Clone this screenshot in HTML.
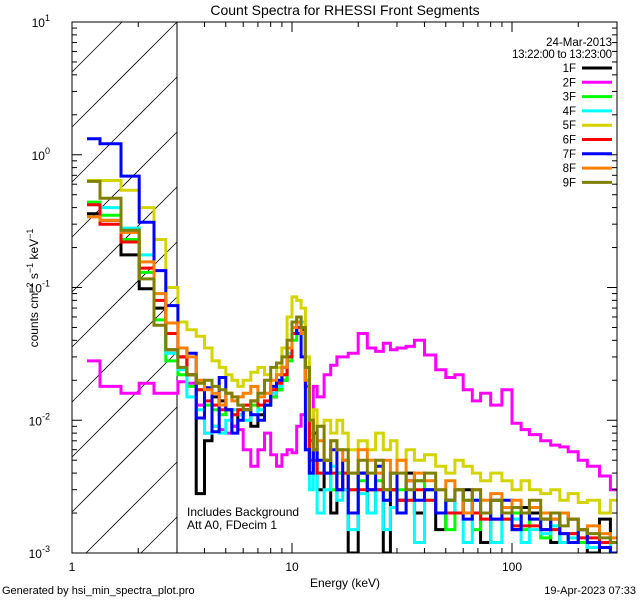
<!DOCTYPE html>
<html><head><meta charset="utf-8"><style>
html,body{margin:0;padding:0;background:#fff;overflow:hidden;width:640px;height:600px;}
svg{display:block;}
svg text{font-family:"Liberation Sans",sans-serif;fill:#000;}
</style></head><body>
<svg id="chart" width="640" height="600" viewBox="0 0 640 600" xmlns="http://www.w3.org/2000/svg">
<rect width="640" height="600" fill="#fff"/>
<defs><clipPath id="pc"><rect x="72" y="22" width="545" height="531"/></clipPath></defs>
<g id="hatch"></g>
<line x1="177" y1="22" x2="177" y2="553" stroke="#000" stroke-width="1"/>
<g id="series" clip-path="url(#pc)"></g>
<rect x="72" y="22" width="545" height="531" fill="none" stroke="#000" stroke-width="1"/>
<g id="ticks"></g>
<text x="345" y="15" font-size="14" text-anchor="middle">Count Spectra for RHESSI Front Segments</text>
<text x="612" y="46" font-size="11.5" text-anchor="end">24-Mar-2013</text>
<text x="612" y="58" font-size="11.5" text-anchor="end" textLength="100">13:22:00 to 13:23:00</text>
<g id="legend"></g>
<text x="187" y="516" font-size="12">Includes Background</text>
<text x="187" y="529" font-size="12">Att A0, FDecim 1</text>
<text x="345" y="587" font-size="12" text-anchor="middle">Energy (keV)</text>
<text transform="translate(38,288) rotate(-90)" font-size="12" text-anchor="middle">counts cm<tspan dy="-5" font-size="9">−2</tspan><tspan dy="5"> s</tspan><tspan dy="-5" font-size="9">−1</tspan><tspan dy="5"> keV</tspan><tspan dy="-5" font-size="9">−1</tspan></text>
<text x="2" y="594" font-size="11">Generated by hsi_min_spectra_plot.pro</text>
<text x="636" y="594" font-size="11" text-anchor="end">19-Apr-2023 07:33</text>
</svg>
<script>
const edges=[1.17,1.34,1.67,2.02,2.36,2.67,3.03,3.33,3.67,4.0,4.33,4.67,5.0,5.33,5.67,6.0,6.5,7.0,7.5,8.0,8.5,9.0,9.5,10.0,10.5,11.0,11.5,12.0,12.5,13,14,15,16,17,18,20,22,24,26,28,30,33,36,40,45,50,55,60,66,72,80,90,100,110,120,135,150,165,180,200,220,250,280,300];
const segNames=["1F","2F","3F","4F","5F","6F","7F","8F","9F"];
const segColors=["#000000","#ff00ff","#00ff00","#00ffff","#d4d400","#ff0000","#0000ff","#ff8000","#808000"];
const s1F=[0.36,0.32,0.176,0.098,0.07,0.034,0.030,0.022,0.0028,0.007,0.015,0.014,0.012,0.009,0.011,0.012,0.009,0.011,0.013,0.015,0.017,0.020,0.030,0.045,0.050,0.048,0.020,0.004,0.006,0.003,0.005,0.002,0.004,0.003,0.001,0.004,0.002,0.003,0.001,0.003,0.0025,0.004,0.002,0.003,0.0015,0.0025,0.002,0.003,0.002,0.0012,0.0025,0.002,0.0015,0.0022,0.002,0.0018,0.0012,0.002,0.0018,0.0015,0.001,0.0018,0.0012];
const s2F=[0.028,0.018,0.016,0.019,0.016,0.016,0.0195,0.019,0.013,0.008,0.009,0.0085,0.008,0.009,0.0085,0.006,0.0045,0.006,0.008,0.0055,0.0045,0.0055,0.006,0.0057,0.009,0.011,0.006,0.007,0.018,0.015,0.022,0.026,0.030,0.030,0.032,0.045,0.035,0.033,0.038,0.034,0.035,0.036,0.040,0.031,0.024,0.021,0.022,0.017,0.014,0.016,0.013,0.017,0.0095,0.0085,0.0078,0.007,0.0065,0.0063,0.0058,0.005,0.0045,0.0038,0.003];
const s3F=[0.44,0.35,0.23,0.13,0.057,0.028,0.022,0.018,0.017,0.013,0.012,0.011,0.012,0.011,0.012,0.012,0.013,0.012,0.013,0.015,0.017,0.020,0.028,0.040,0.055,0.050,0.025,0.005,0.004,0.004,0.005,0.003,0.004,0.004,0.003,0.0035,0.003,0.0035,0.0025,0.003,0.003,0.0025,0.0035,0.0025,0.002,0.0015,0.002,0.0025,0.0015,0.002,0.0012,0.0018,0.002,0.0015,0.0018,0.0013,0.0015,0.0012,0.0014,0.0012,0.0012,0.0011,0.001];
const s4F=[0.42,0.40,0.28,0.176,0.09,0.032,0.024,0.015,0.012,0.008,0.009,0.008,0.010,0.012,0.011,0.010,0.011,0.012,0.013,0.016,0.018,0.022,0.032,0.050,0.060,0.055,0.020,0.003,0.004,0.002,0.003,0.0045,0.0025,0.003,0.0015,0.0028,0.002,0.003,0.0015,0.0022,0.002,0.003,0.0012,0.003,0.002,0.0025,0.002,0.0012,0.0025,0.0018,0.0012,0.002,0.0018,0.0012,0.0015,0.0014,0.0016,0.0012,0.0013,0.0015,0.0011,0.0012,0.001];
const s5F=[0.64,0.64,0.54,0.40,0.23,0.10,0.055,0.048,0.043,0.035,0.028,0.025,0.022,0.020,0.018,0.020,0.023,0.025,0.022,0.018,0.025,0.035,0.060,0.085,0.080,0.070,0.030,0.008,0.012,0.009,0.010,0.008,0.010,0.008,0.006,0.007,0.006,0.008,0.006,0.007,0.005,0.006,0.005,0.0055,0.0045,0.004,0.005,0.0045,0.004,0.0035,0.004,0.0035,0.003,0.0035,0.0030,0.0028,0.003,0.0025,0.0028,0.0024,0.0025,0.002,0.0025];
const s6F=[0.42,0.30,0.22,0.14,0.08,0.045,0.03,0.022,0.017,0.014,0.013,0.012,0.012,0.011,0.012,0.013,0.014,0.013,0.014,0.017,0.019,0.022,0.03,0.045,0.05,0.045,0.018,0.005,0.005,0.004,0.004,0.004,0.003,0.004,0.003,0.003,0.003,0.003,0.003,0.003,0.0025,0.0025,0.003,0.0025,0.002,0.002,0.002,0.002,0.002,0.0018,0.0018,0.0018,0.0016,0.0016,0.0016,0.0015,0.0015,0.0014,0.0014,0.0013,0.0013,0.0012,0.0012];
const s7F=[1.32,1.21,0.69,0.31,0.134,0.073,0.035,0.032,0.0104,0.0176,0.0082,0.021,0.012,0.008,0.010,0.012,0.011,0.010,0.013,0.018,0.020,0.025,0.035,0.055,0.045,0.030,0.006,0.004,0.008,0.005,0.004,0.006,0.003,0.005,0.002,0.004,0.003,0.0045,0.0025,0.004,0.002,0.0035,0.0025,0.003,0.002,0.0025,0.003,0.0018,0.0025,0.002,0.0018,0.0025,0.0015,0.002,0.0018,0.0015,0.0018,0.0014,0.0012,0.0015,0.0012,0.0011,0.001];
const s8F=[0.34,0.32,0.26,0.156,0.09,0.054,0.035,0.030,0.020,0.017,0.016,0.013,0.016,0.014,0.015,0.016,0.018,0.015,0.016,0.020,0.022,0.025,0.035,0.050,0.055,0.045,0.020,0.010,0.006,0.007,0.005,0.007,0.006,0.005,0.004,0.006,0.005,0.004,0.005,0.004,0.005,0.0035,0.004,0.0035,0.003,0.0035,0.003,0.002,0.003,0.0025,0.0028,0.0022,0.0025,0.002,0.0022,0.002,0.0018,0.002,0.0018,0.0015,0.0016,0.0014,0.0013];
const s9F=[0.63,0.47,0.27,0.116,0.052,0.034,0.025,0.022,0.019,0.020,0.018,0.017,0.016,0.015,0.013,0.012,0.014,0.016,0.020,0.025,0.027,0.030,0.040,0.055,0.060,0.050,0.025,0.010,0.006,0.009,0.005,0.007,0.006,0.006,0.004,0.005,0.004,0.005,0.003,0.004,0.004,0.003,0.0035,0.004,0.003,0.0025,0.003,0.0025,0.003,0.002,0.0025,0.002,0.0022,0.002,0.0025,0.0018,0.002,0.0016,0.0018,0.0015,0.0014,0.0013,0.0012];
const seriesData=[s1F,s2F,s3F,s4F,s5F,s6F,s7F,s8F,s9F];
const xTickLabels=["1","10","100"];
const yTickExps=["1","0","-1","-2","-3"];

const X0=72,X1=617,Y0=22,Y1=553,XMIN=1,XMAX=Math.pow(10,(X1-X0)/220),YMIN=1e-3,YMAX=10;
const ns="http://www.w3.org/2000/svg";
function xs(e){return X0+(Math.log10(e)-Math.log10(XMIN))/(Math.log10(XMAX)-Math.log10(XMIN))*(X1-X0);}
function ys(v){v=Math.max(v,YMIN*0.5);return Y1-(Math.log10(v)-Math.log10(YMIN))/(Math.log10(YMAX)-Math.log10(YMIN))*(Y1-Y0);}
function mk(t,a,p){const e=document.createElementNS(ns,t);for(const k in a)e.setAttribute(k,a[k]);p.appendChild(e);return e;}

// hatch lines clipped manually: y = c - (x-72), x in [72,177], y in [22,553]
const hg=document.getElementById('hatch');
for(let k=-2;k<12;k++){const c=22+k*55+105;
 let xa=72,xb=177;
 xa=Math.max(xa,72+(c-553));xb=Math.min(xb,72+(c-22));
 if(xb<=xa)continue;
 const l=mk('line',{x1:xa,y1:c-(xa-72),x2:xb,y2:c-(xb-72),stroke:'#000','stroke-width':0.8},hg);
 
 }

const sg=document.getElementById('series');
seriesData.forEach((vals,i)=>{
 let d='M'+xs(edges[0]).toFixed(1)+' '+ys(vals[0]).toFixed(1);
 for(let j=0;j<vals.length;j++){
  if(j>0)d+=' V'+ys(vals[j]).toFixed(1);
  d+=' H'+Math.min(xs(edges[j+1]),X1).toFixed(1);
 }
 const p=mk('path',{d:d,fill:'none',stroke:segColors[i],'stroke-width':3,'stroke-linejoin':'miter'},sg);
 
 
});

const tg=document.getElementById('ticks');
function tk(x1,y1,x2,y2){const l=mk('line',{x1,y1,x2,y2,stroke:'#000','stroke-width':1},tg);
 
 }
for(let dec=1;dec<=100;dec*=10){for(let m=1;m<10;m++){const e=dec*m;if(e>XMAX)break;const x=xs(e);const L=m===1?10:5;
 tk(x,Y1,x,Y1-L);tk(x,Y0,x,Y0+L);}}
for(let dec=1e-3;dec<10;dec*=10){for(let m=1;m<10;m++){const y=ys(dec*m);const L=m===1?10:5;
 tk(X0,y,X0+L,y);tk(X1,y,X1-L,y);}}
tk(X0,Y0,X0+10,Y0);tk(X1,Y0,X1-10,Y0);
xTickLabels.forEach(s=>{const t=mk('text',{x:xs(parseFloat(s)),y:571,'font-size':12,'text-anchor':'middle'},tg);t.textContent=s;
 
 });
yTickExps.forEach(s=>{const y=ys(Math.pow(10,parseFloat(s)));const t=mk('text',{x:50,y:y+5,'font-size':12,'text-anchor':'end'},tg);
 
 
 t.appendChild(document.createTextNode('10'));const sp=mk('tspan',{dy:-6,'font-size':9},t);sp.textContent=s;});

const lg=document.getElementById('legend');
segNames.forEach((n,i)=>{const y=68+i*14.3;
 const t=mk('text',{x:576,y:y+4,'font-size':11.5,'text-anchor':'end'},lg);t.textContent=n;
 
 
 const l=mk('line',{x1:582,y1:y,x2:612,y2:y,stroke:segColors[i],'stroke-width':3},lg);
 
 });
</script>
</body></html>
